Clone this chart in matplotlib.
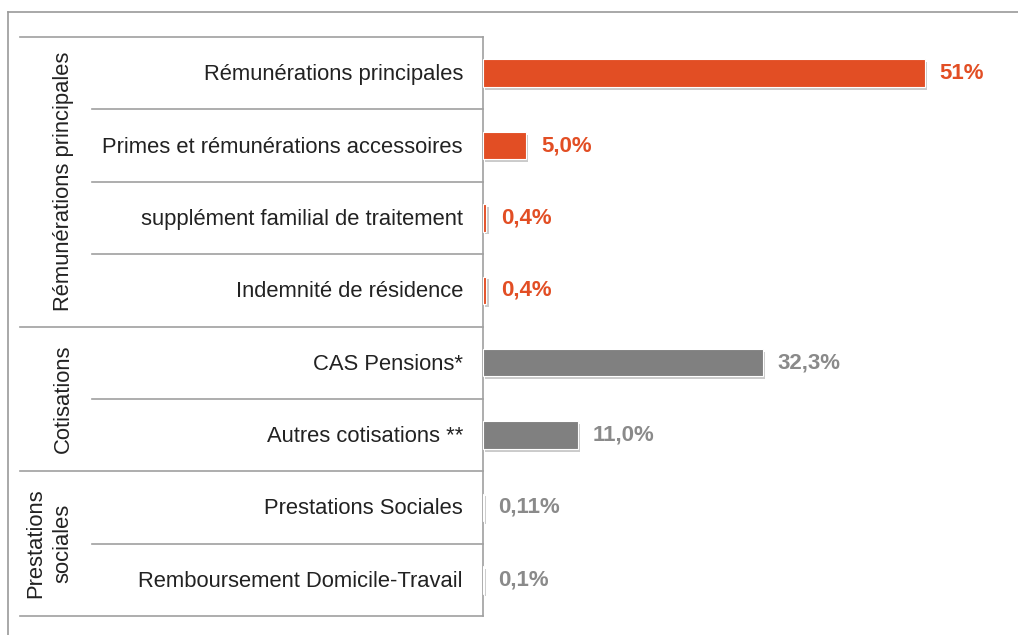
import matplotlib.pyplot as plt
import matplotlib.patheffects as pe
from matplotlib.lines import Line2D

plt.rcParams['font.family'] = ['Liberation Sans', 'DejaVu Sans']

# data
categories = ['Rémunérations principales', 'Primes et rémunérations accessoires',
              'supplément familial de traitement', 'Indemnité de résidence',
              'CAS Pensions*', 'Autres cotisations **',
              'Prestations Sociales', 'Remboursement Domicile-Travail']
values = [51, 5.0, 0.4, 0.4, 32.3, 11.0, 0.11, 0.1]
value_labels = ['51%', '5,0%', '0,4%', '0,4%', '32,3%', '11,0%', '0,11%', '0,1%']
groups = ['Rémunérations principales', 'Cotisations', 'Prestations\nsociales']
group_sizes = [4, 2, 2]

orange = '#E24E24'
grey = '#808080'
bar_colors = [orange] * 4 + [grey] * 4
label_colors = [orange] * 4 + ['#8a8a8a'] * 4

W, H = 1018, 635
fig = plt.figure(figsize=(W / 100, H / 100), dpi=100)

def fx(px):
    return px / W

def fy(py):
    return 1 - py / H

top, bottom = 37, 616
left_tab, right_tab = 20, 483
n = len(categories)

# outer frame of the picture
fig.add_artist(Line2D([fx(8), 1], [fy(12), fy(12)], color='#9a9a9a', lw=1.2))
fig.add_artist(Line2D([fx(8), fx(8)], [fy(12), 0], color='#9a9a9a', lw=1.2))

# table on the left
tab = fig.add_axes([fx(left_tab), fy(bottom), fx(right_tab - left_tab), (bottom - top) / H])
tab.set_xlim(0, right_tab - left_tab)
tab.set_ylim(n, 0)
tab.axis('off')
line_c = '#a0a0a0'
tab.plot([right_tab - left_tab] * 2, [0, n], color=line_c, lw=1.2, clip_on=False)
pos = 0
for g, size in zip(groups, group_sizes):
    tab.plot([0, right_tab - left_tab], [pos, pos], color=line_c, lw=1.2, clip_on=False)
    for k in range(1, size):
        tab.plot([72, right_tab - left_tab], [pos + k, pos + k], color=line_c, lw=1.2, clip_on=False)
    gx = 43 if '\n' not in g else 29
    tab.text(gx, pos + size / 2, g, rotation=90, ha='center', va='center',
             fontsize=15.8, color='#222222', linespacing=1.4)
    pos += size
tab.plot([0, right_tab - left_tab], [n, n], color=line_c, lw=1.2, clip_on=False)
for i, c in enumerate(categories):
    tab.text(443, i + 0.52, c, ha='right', va='center', fontsize=15.8, color='#222222')

# bars
ax = fig.add_axes([fx(right_tab), fy(bottom), fx(1010 - right_tab), (bottom - top) / H])
ax.set_xlim(0, (1010 - right_tab) / 8.67)
ax.set_ylim(n, 0)
ax.axis('off')
ypos = [i + 0.5 for i in range(n)]
bars = ax.barh(ypos, values, height=0.38, color=bar_colors, edgecolor='white', linewidth=0.8,
               path_effects=[pe.SimplePatchShadow(offset=(1.5, -2), shadow_rgbFace='#999999', alpha=0.5),
                             pe.Normal()])
for b, lab, col in zip(bars, value_labels, label_colors):
    ax.annotate(lab, (b.get_width(), b.get_y() + b.get_height() / 2), xytext=(10.5, 0),
                textcoords='offset points', ha='left', va='center', fontsize=16,
                fontweight='bold', color=col)

fig.savefig('out.png', dpi=100)
